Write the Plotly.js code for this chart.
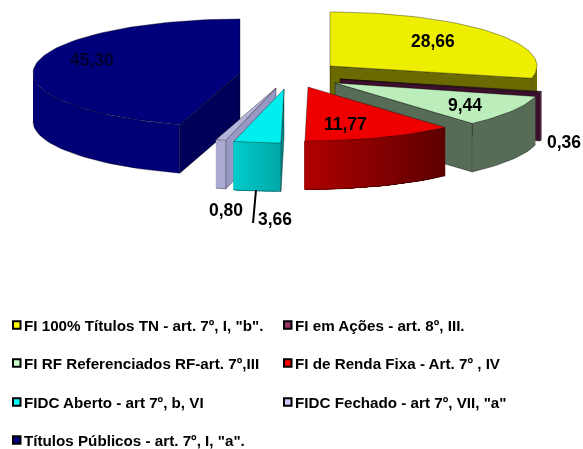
<!DOCTYPE html>
<html>
<head>
<meta charset="utf-8">
<script src="https://cdn.plot.ly/plotly-3.0.1.min.js"></script>
<style>html,body{margin:0;padding:0;background:#fff}#c{width:583px;height:449px;filter:blur(0.45px)}</style>
</head>
<body>
<div id="c"></div>
<script>
// Data
const categories = ['FI 100% Títulos TN - art. 7º, I, "b".','FI em Ações - art. 8º, III.','FI RF Referenciados RF-art. 7º,III','FI de Renda Fixa - Art. 7º , IV','FIDC Aberto - art 7º, b, VI','FIDC Fechado - art 7º, VII, "a"','Títulos Públicos - art. 7º, I, "a".'];
const values = [28.66,0.36,9.44,11.77,3.66,0.80,45.30];
// Styling
const legendColors = ['#ffff00','#993366','#ccffcc','#ff0000','#00ffff','#ccccff','#000080'];
const topColors = ['#eeee00','#4a2040','#bbeebb','#ee0000','#00eeee','#b4b4da','#00007a'];
const rimFrom = ['#6a6a00','#3c0f2d','#566c56','#b00000','#00cccc','#aaaad2','#000074'];
const rimTo   = ['#6a6a00','#3c0f2d','#566c56','#5c0000','#00a8a8','#aaaad2','#000074'];
const wallColors = ['#6a6a00','#3c0f2d','#566c56','#800000','#008c8c','#9898c4','#000058'];
// Explosion: where each slice's centre ends up on the page
const centerX = [330,340,335,308,284,276,240];
const centerY = [66,79,83,87,89,88,73];
const drawOrder = [0,1,2,3,6,5,4];
const radiusX = 207, radiusY = 54, depth = 48.5;
// Value label placement
const labelX = [433,564,465,345,275,226,92];
const labelY = [41,142,105,124,219,210,60];
const labelColor = ['#000','#000','#000','#000','#000','#000','#000030'];

const total = values.reduce((a,b)=>a+b,0);
let acc = 0;
const angles = values.map(v=>{const s=acc; acc+=v/total*360; return [s,acc];});
const rad = d=>d*Math.PI/180;
const px = (i,a)=>centerX[i]+radiusX*Math.sin(rad(a));
const py = (i,a)=>centerY[i]-radiusY*Math.cos(rad(a));
const arc = (a0,a1)=>{const n=Math.max(2,Math.ceil((a1-a0)/2)),o=[];for(let k=0;k<=n;k++)o.push(a0+(a1-a0)*k/n);return o;};
const hex = c=>[1,3,5].map(k=>parseInt(c.substr(k,2),16));
const mix = (a,b,t)=>{const A=hex(a),B=hex(b);return 'rgb('+A.map((v,k)=>Math.round(v+(B[k]-v)*t)).join(',')+')';};
const traces = [];
function poly(xs,ys,fill,line,w){
  traces.push({type:'scatter',mode:'lines',x:xs.concat(xs[0]),y:ys.concat(ys[0]),fill:'toself',fillcolor:fill,
    line:{color:line||fill,width:w===undefined?0:w},hoverinfo:'skip',showlegend:false});
}
const edge='rgba(0,0,0,0.6)';
function wall(i,a){
  const X=[centerX[i],px(i,a),px(i,a),centerX[i]],Y=[centerY[i],py(i,a),py(i,a)+depth,centerY[i]+depth];
  poly(X,Y,wallColors[i],edge,0.6);
}
function rim(i){
  const a0=Math.max(angles[i][0],90),a1=Math.min(angles[i][1],270);
  if(a1<=a0)return;
  const xL=Math.min(px(i,a0),px(i,a1)),xR=Math.max(px(i,a0),px(i,a1));
  const flat=rimFrom[i]===rimTo[i];
  const n=flat?1:Math.max(1,Math.round((a1-a0)/1.5));
  for(let s=0;s<n;s++){
    // each band reaches to the far end, the next band paints over it: no gaps between bands
    const b0=a0+(a1-a0)*s/n,bm=a0+(a1-a0)*(s+0.5)/n,pts=arc(b0,a1);
    const X=pts.map(a=>px(i,a)),Y=pts.map(a=>py(i,a));
    const t=(px(i,bm)-xL)/(xR-xL||1);
    poly(X.concat(X.slice().reverse()),Y.concat(Y.map(v=>v+depth).reverse()),mix(rimFrom[i],rimTo[i],t));
  }
  const pts=arc(a0,a1);
  const bx=pts.map(a=>px(i,a)),by=pts.map(a=>py(i,a)+depth);
  traces.push({type:'scatter',mode:'lines',x:bx,y:by,line:{color:edge,width:0.6},hoverinfo:'skip',showlegend:false});
}
drawOrder.forEach(i=>{
  const [a0,a1]=angles[i];
  rim(i);
  if(a1<180)wall(i,a1);
  if(a0>180)wall(i,a0);
  const pts=arc(a0,a1);
  poly([centerX[i]].concat(pts.map(a=>px(i,a))),[centerY[i]].concat(pts.map(a=>py(i,a))),topColors[i],edge,0.6);
});
// leader line for the 3,66 label
traces.push({type:'scatter',mode:'lines',x:[256,253],y:[190,223],line:{color:'#000',width:2},hoverinfo:'skip',showlegend:false});

const fmt=v=>v.toFixed(2).replace('.',',');
const annotations=values.map((v,i)=>({x:labelX[i],y:labelY[i],xref:'x',yref:'y',text:'<b>'+fmt(v)+'</b>',showarrow:false,
  font:{family:'Liberation Sans, Arial, sans-serif',size:17.5,color:labelColor[i]},xanchor:'center',yanchor:'middle'}));
// Legend built from the categories
const legendColX=[12,283], legendRowY=[325,363,402,440], shapes=[];
categories.forEach((c,i)=>{
  const col=i%2,row=Math.floor(i/2),x=legendColX[col],y=legendRowY[row];
  annotations.push({x:x+9.5,y:y,xref:'x',yref:'y',text:'<b>'+c+'</b>',showarrow:false,xanchor:'left',yanchor:'middle',
    font:{family:'Liberation Sans, Arial, sans-serif',size:15.2,color:'#000'}});
  shapes.push({type:'rect',xref:'x',yref:'y',x0:x+1,x1:x+8.5,y0:y-3.8,y1:y+3.8,fillcolor:legendColors[i],line:{color:'#000',width:2}});
});
Plotly.newPlot('c',traces,{
  width:583,height:449,margin:{l:0,r:0,t:0,b:0},paper_bgcolor:'#fff',plot_bgcolor:'#fff',showlegend:false,
  xaxis:{range:[0,583],visible:false,fixedrange:true},
  yaxis:{range:[449,0],visible:false,fixedrange:true},
  annotations:annotations,shapes:shapes
},{displayModeBar:false,staticPlot:true});
</script>
</body>
</html>
